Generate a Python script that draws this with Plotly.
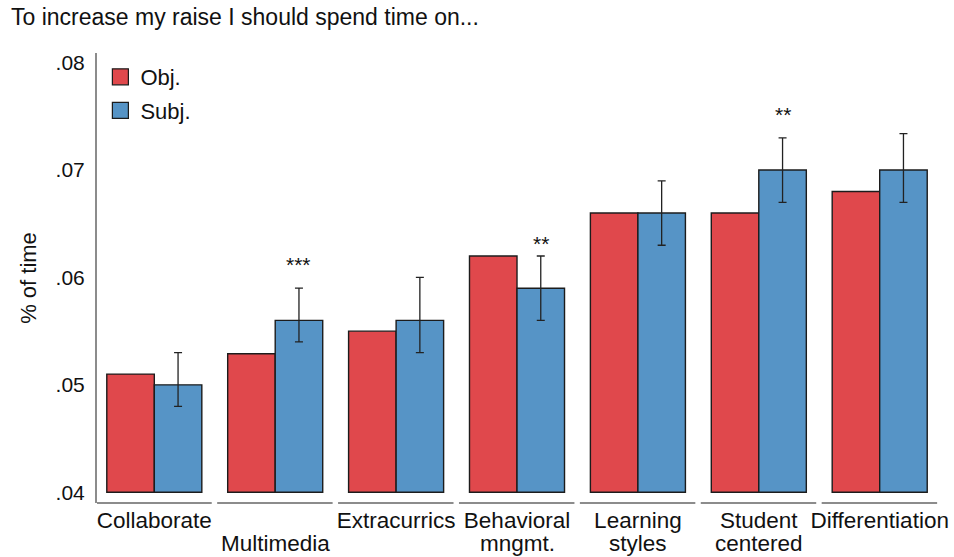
import plotly.graph_objects as go

# ---- data ----
categories = ["Collaborate", "Multimedia", "Extracurrics", "Behavioral mngmt.",
              "Learning styles", "Student centered", "Differentiation"]
label_line1 = ["Collaborate", "", "Extracurrics", "Behavioral",
               "Learning", "Student", "Differentiation"]
label_line2 = ["", "Multimedia", "", "mngmt.", "styles", "centered", ""]
obj_vals = [0.0510, 0.0529, 0.0550, 0.0620, 0.0660, 0.0660, 0.0680]
subj_vals = [0.0500, 0.0560, 0.0560, 0.0590, 0.0660, 0.0700, 0.0700]
subj_hi = [0.0530, 0.0590, 0.0600, 0.0620, 0.0690, 0.0730, 0.0734]
subj_lo = [0.0480, 0.0540, 0.0530, 0.0560, 0.0630, 0.0670, 0.0670]
sig_text = ["", "***", "", "**", "", "**", ""]
sig_level = [None, 0.0613, None, 0.0633, None, 0.0753, None]
y_tick_vals = [0.04, 0.05, 0.06, 0.07, 0.08]
y_tick_text = [".04", ".05", ".06", ".07", ".08"]
BASE = 0.04

RED = "#E0484C"
BLUE = "#5694C6"
EDGE = "#1c1c1c"
AXIS = "#8c8c8c"
TXT = "#111111"
FONT = "Liberation Sans, Arial, Helvetica, sans-serif"
XFONT = 22.5

fig = go.Figure()
fig.add_trace(go.Bar(
    x=categories, y=[v - BASE for v in obj_vals], base=BASE, name="Obj.",
    marker=dict(color=RED, line=dict(color=EDGE, width=1.4)), showlegend=False))
fig.add_trace(go.Bar(
    x=categories, y=[v - BASE for v in subj_vals], base=BASE, name="Subj.",
    marker=dict(color=BLUE, line=dict(color=EDGE, width=1.4)), showlegend=False,
    error_y=dict(type="data", symmetric=False,
                 array=[h - v for h, v in zip(subj_hi, subj_vals)],
                 arrayminus=[v - l for v, l in zip(subj_vals, subj_lo)],
                 color="#222222", thickness=1.3, width=4)))

# legend entries
for nm, col, grp in [("Obj.", RED, "a"), ("Subj.", BLUE, "b")]:
    fig.add_trace(go.Scatter(x=[None], y=[None], mode="markers", name=nm,
                             legendgroup=grp,
                             marker=dict(symbol="square", size=16, color=col,
                                         line=dict(color=EDGE, width=1.2))))

# significance stars above subjective bars
n = len(categories)
half_bar = (1 - 0.214) / 4
for i, (t, lvl) in enumerate(zip(sig_text, sig_level)):
    if t:
        fig.add_annotation(x=i + half_bar, y=lvl, xref="x", yref="y", text=t,
                           showarrow=False, yshift=-1,
                           font=dict(size=21, color=TXT, family=FONT))

# second line of the category labels
for i, t in enumerate(label_line2):
    if t:
        fig.add_annotation(x=i, y=0, xref="x", yref="paper", text=t,
                           showarrow=False, yanchor="middle", yshift=-40,
                           font=dict(size=XFONT, color=TXT, family=FONT))

# segmented x axis line (one segment per category)
for i in range(n):
    x0 = -0.474 if i == 0 else i - 0.48
    fig.add_shape(type="line", xref="x", yref="paper", x0=x0, x1=i + 0.475,
                  y0=0, y1=0, line=dict(color=AXIS, width=2))

fig.update_layout(
    width=954, height=557,
    margin=dict(l=97, r=13, t=53, b=54, autoexpand=False),
    paper_bgcolor="white", plot_bgcolor="white",
    barmode="group", bargap=0.214, bargroupgap=0,
    font=dict(family=FONT, size=21, color=TXT),
    title=dict(text="To increase my raise I should spend time on...",
               x=11 / 954, xref="container", xanchor="left",
               y=1 - 17 / 557, yref="container", yanchor="middle",
               font=dict(size=23, family=FONT, color=TXT)),
    legend=dict(x=0.004, y=1 - 3 / 450, xanchor="left", yanchor="top",
                font=dict(size=22, family=FONT, color=TXT),
                bgcolor="rgba(0,0,0,0)", tracegroupgap=2),
    xaxis=dict(type="category", range=[-0.474, 6.507], showgrid=False,
               zeroline=False, showline=False, ticks="", automargin=False,
               tickmode="array", tickvals=categories, ticktext=label_line1,
               tickfont=dict(size=XFONT, family=FONT, color=TXT),
               ticklabelstandoff=1),
    yaxis=dict(range=[0.0390, 0.0809], showgrid=False, zeroline=False,
               showline=True, linecolor=AXIS, linewidth=2, ticks="",
               automargin=False,
               tickmode="array", tickvals=y_tick_vals, ticktext=y_tick_text,
               tickfont=dict(size=21, family=FONT, color=TXT),
               ticklabelstandoff=6,
               title=dict(text="% of time", standoff=13,
                          font=dict(size=22, family=FONT, color=TXT))),
)

fig.write_html("out.html", config={"displayModeBar": False},
               post_script="document.body.style.margin='0';")
